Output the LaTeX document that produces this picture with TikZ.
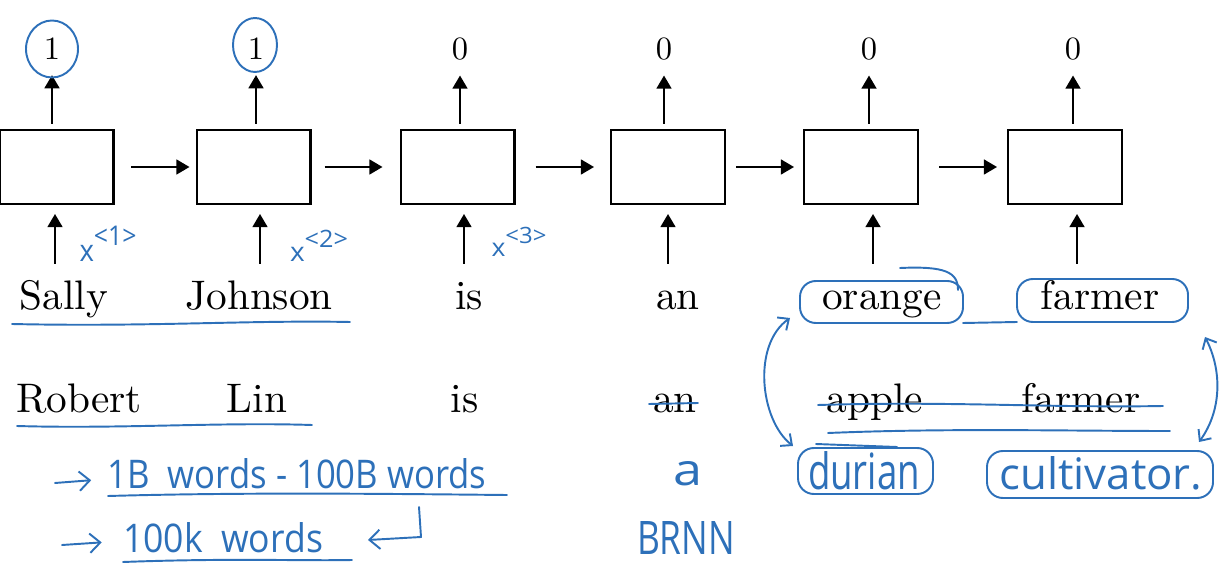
\documentclass[tikz,border=0pt]{standalone}
\usepackage{fontspec}
\usepackage{graphicx}
\newfontfamily\handfont{Open Sans}
\newfontfamily\lmten{lmroman10-regular.otf}
\usetikzlibrary{arrows.meta}
\definecolor{pen}{RGB}{45,112,185}
\begin{document}
\begin{tikzpicture}[x=0.02cm,y=-0.02cm,
  cell/.style={draw,line width=1.15pt,minimum width=2.28cm,minimum height=1.48cm,inner sep=0pt},
  arr/.style={line width=1.15pt,-{Triangle[length=7.5pt,width=8.5pt]}},
  word/.style={font=\lmten\fontsize{23.5}{28}\selectfont,anchor=base,inner sep=0pt},
  outl/.style={font=\lmten\fontsize{18.5}{22}\selectfont,inner sep=0pt},
  ink/.style={draw=pen,line width=1.1pt,line cap=round,line join=round},
  inkarr/.style={ink,-{Straight Barb[length=6pt,width=11pt]}},
  hand/.style={text=pen,inner sep=0pt},
]
\useasboundingbox (0,0) rectangle (1226,570);

% RNN cells
\node[cell] (b1) at (56.5,167) {};
\node[cell] (b2) at (253.5,167) {};
\node[cell] (b3) at (457.5,167) {};
\node[cell] (b4) at (668,167) {};
\node[cell] (b5) at (861,167) {};
\node[cell] (b6) at (1065,167) {};

% outputs
\node[outl] (o1) at (52,49) {1};
\node[outl] (o2) at (256,49) {1};
\node[outl] (o3) at (460,49) {0};
\node[outl] (o4) at (664,49) {0};
\node[outl] (o5) at (869,49) {0};
\node[outl] (o6) at (1073,49) {0};

\foreach \i/\ix in {1/55, 2/260, 3/464, 4/668, 5/873, 6/1077} {
  \coordinate (in\i) at (\ix,264);
  \draw[arr,shorten >=0.18cm] (in\i) -- (in\i |- b\i.south);
  \draw[arr,shorten <=0.1cm,shorten >=0.3cm] (o\i.south |- b\i.north) -- (o\i.south);
}

% recurrent arrows
\draw[arr,shorten <=0.34cm,shorten >=0.12cm] (b1) -- (b2);
\draw[arr,shorten <=0.26cm,shorten >=0.34cm] (b2) -- (b3);
\draw[arr,shorten <=0.40cm,shorten >=0.32cm] (b3) -- (b4);
\draw[arr,shorten <=0.20cm,shorten >=0.18cm] (b4) -- (b5);
\draw[arr,shorten <=0.40cm,shorten >=0.20cm] (b5) -- (b6);

% words row 1
\node[word] (w1) at (64,310) {Sally};
\node[word] (w2) at (259,310) {Johnson};
\node[word] (w3) at (469,310) {is};
\node[word] (w4) at (678,310) {an};
\node[word] (w5) at (882,310) {orange};
\node[word] (w6) at (1100,310) {farmer};

% words row 2
\node[word] (r1) at (79,413) {Robert};
\node[word] (r2) at (257,413) {Lin};
\node[word] (r3) at (464.5,413) {is};
\node[word] (r4) at (675,413) {an};
\node[word] (r5) at (875,413) {apple};
\node[word] (r6) at (1081,413) {farmer};

% handwritten annotations
\draw[ink] (o1) ellipse [x radius=0.52cm, y radius=0.57cm];
\draw[ink] (o2.center) ++(-1,-4) ellipse [x radius=0.44cm, y radius=0.54cm];

\node[hand] (x1) at (108,244) {\resizebox{1.14cm}{0.72cm}{\handfont x\raisebox{0.55em}{\small<1>}}};
\node[hand] (x2) at (319,246) {\resizebox{1.16cm}{0.64cm}{\handfont x\raisebox{0.55em}{\small<2>}}};
\node[hand] (x3) at (519,242) {\resizebox{1.10cm}{0.60cm}{\handfont x\raisebox{0.55em}{\small<3>}}};

\draw[ink] (12,324) .. controls (150,327) and (250,320) .. (350,322);
\draw[ink] (17,426) .. controls (120,429) and (220,422) .. (312,425);

\node[hand] (h1) at (297,474) {\resizebox{7.58cm}{0.6cm}{\handfont 1B\ \ words - 100B words}};
\node[hand] (h2) at (223,538) {\resizebox{4.0cm}{0.6cm}{\handfont 100k\ \ words}};
\coordinate (a1) at (55,483);
\coordinate (a2) at (62,545);
\draw[inkarr,shorten >=0.32cm] (a1) -- (h1.west |- 0,479);
\draw[inkarr,shorten >=0.42cm] (a2) -- (h2.west |- 0,541);
\draw[ink] (108,496) .. controls (250,492) and (400,494) .. (507,495);
\draw[ink] (123,562) .. controls (230,558) and (300,561) .. (352,560);
\coordinate (k1) at (419,507);
\coordinate (k2) at (421,537);
\coordinate (k3) at (368,540);
\draw[inkarr] (k1) -- (k2) -- (k3);

\node[hand] (ha) at (688,474) {\resizebox{0.58cm}{0.48cm}{\handfont a}};
\node[hand] (hb) at (686,538) {\resizebox{1.96cm}{0.66cm}{\handfont BRNN}};

% strike-throughs
\draw[ink] (649,404) -- (698,403);
\draw[ink] (818,405) .. controls (950,401) and (1050,408) .. (1163,406);
\draw[ink] (828,433) .. controls (950,428) and (1060,431) .. (1170,431);

% boxes around words
\draw[ink,rounded corners=9pt] (800,281) rectangle (963,323);
\draw[ink] (900,268) .. controls (945,266) and (958,272) .. (958,290);
\draw[ink,rounded corners=9pt] (1017,279) rectangle (1188,322);
\draw[ink] (963,323) -- (1017,322);

\node[hand] (hd) at (864,471) {\resizebox{2.24cm}{0.76cm}{\handfont durian}};
\node[hand] (hc) at (1101,473) {\resizebox{4.06cm}{0.66cm}{\handfont cultivator.}};
\draw[ink,rounded corners=9pt] (798,448) rectangle (933,494);
\draw[ink] (816,444) -- (897,447);
\draw[ink,rounded corners=9pt] (987,451) rectangle (1213,498);

% double arrows
\coordinate (la) at (793,446);
\coordinate (lb) at (790,318);
\draw[ink,{Straight Barb[length=5pt,width=9pt]}-{Straight Barb[length=5pt,width=9pt]}] (la) .. controls (760,420) and (752,345) .. (lb);
\coordinate (ra) at (1205,337);
\coordinate (rb) at (1199,442);
\draw[ink,{Straight Barb[length=5pt,width=9pt]}-{Straight Barb[length=5pt,width=9pt]}] (ra) .. controls (1222,370) and (1222,410) .. (rb);
\end{tikzpicture}
\end{document}
